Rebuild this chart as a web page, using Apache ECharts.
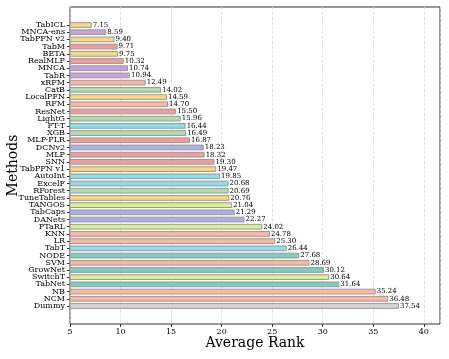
<!DOCTYPE html>
<html><head><meta charset="utf-8">
<script src="https://cdn.jsdelivr.net/npm/echarts@6/dist/echarts.min.js"></script>
<style>html,body{margin:0;padding:0;background:#fff}#c{width:449px;height:359px}</style>
</head><body><div id="c"></div>
<script>
const methods = ["TabICL","MNCA-ens","TabPFN v2","TabM","BETA","RealMLP","MNCA","TabR","xRFM","CatB","LocalPFN","RFM","ResNet","LightG","FT-T","XGB","MLP-PLR","DCNv2","MLP","SNN","TabPFN v1","AutoInt","ExcelF","RForest","TuneTables","TANGOS","TabCaps","DANets","PTaRL","KNN","LR","TabT","NODE","SVM","GrowNet","SwitchT","TabNet","NB","NCM","Dummy"];
const avgRank = [7.15,8.59,9.40,9.71,9.75,10.32,10.74,10.94,12.49,14.02,14.59,14.70,15.50,15.96,16.44,16.49,16.87,18.23,18.32,19.30,19.47,19.85,20.68,20.69,20.76,21.04,21.29,22.27,24.02,24.78,25.30,26.44,27.68,28.69,30.12,30.64,31.64,35.24,36.48,37.54];
const xTicks = [5,10,15,20,25,30,35,40];

const palette = {Y:'#F9D77E',P:'#C6A1DC',R:'#F29B9B',S:'#FFB6A0',G:'#AEDDAB',C:'#8EDDE8',T:'#7ECCBF',B:'#A9B1E0',L:'#D9EF8C',X:'#D9D3D1'};
const colorKeys = "YPYRYRPPSGYSRGCGRBRRYCCGYLBBLSSCTSTLTSSX".split('');

const PAD = 2;
const cats = [];
for (let i=0;i<PAD;i++) cats.push('');
methods.forEach(m=>cats.push(m));
for (let i=0;i<PAD;i++) cats.push('');
const data = [];
for (let i=0;i<PAD;i++) data.push(null);
avgRank.forEach((v,i)=>data.push({value:v,itemStyle:{color:palette[colorKeys[i]]}}));
for (let i=0;i<PAD;i++) data.push(null);

const serif = 'DejaVu Serif';
const chart = echarts.init(document.getElementById('c'));
chart.setOption({
  animation:false,
  grid:{left:70,right:9,top:7,bottom:35,containLabel:false,outerBoundsMode:'none',show:true,borderColor:'#333',borderWidth:1,backgroundColor:'transparent'},
  xAxis:{type:'value',min:5,max:41.6,interval:5,
    axisLine:{show:false},
    axisTick:{show:true,length:3,lineStyle:{color:'#333'}},
    axisLabel:{fontFamily:serif,fontSize:8,color:'#000',margin:4,showMaxLabel:false,
      formatter:v=>xTicks.includes(v)?String(v):''},
    splitLine:{show:true,lineStyle:{color:'#d8d8d8',type:'dashed',width:0.8}},
    name:'Average Rank',nameLocation:'middle',nameGap:12,nameMoveOverlap:false,
    nameTextStyle:{fontFamily:serif,fontSize:14,color:'#000'}},
  yAxis:{type:'category',data:cats,inverse:true,
    axisLine:{show:false},
    axisTick:{show:true,length:3,alignWithLabel:true,lineStyle:{color:'#333'},interval:(i,v)=>v!==''},
    axisLabel:{fontFamily:serif,fontSize:8,color:'#000',margin:5,interval:0},
    splitLine:{show:false},
    name:'Methods',nameLocation:'middle',nameGap:50,nameRotate:90,nameMoveOverlap:false,
    nameTextStyle:{fontFamily:serif,fontSize:14,color:'#000'}},
  series:[{type:'bar',data:data,barWidth:'80%',
    itemStyle:{borderColor:'#9a9a9a',borderWidth:1},
    label:{show:true,position:'right',distance:1,fontFamily:serif,fontSize:7,color:'#000',
      formatter:p=>p.value==null?'':p.value.toFixed(2)}}]
});
</script></body></html>
